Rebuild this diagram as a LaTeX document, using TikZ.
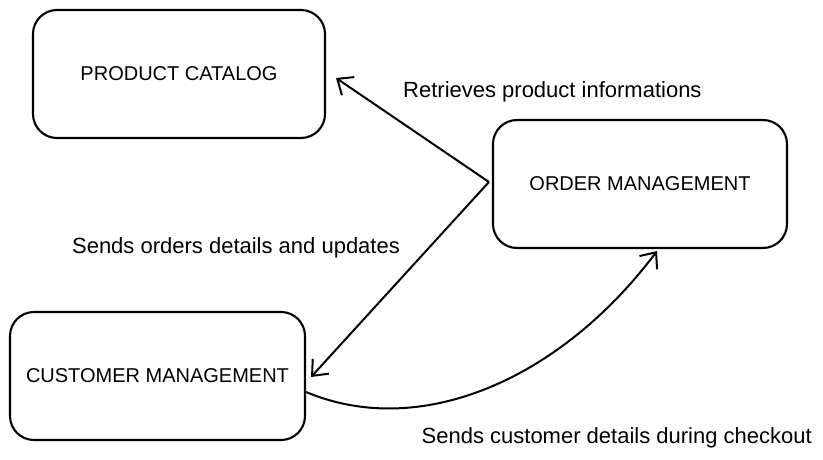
\documentclass[tikz,border=0pt]{standalone}
\usepackage{fontspec}
\setmainfont{Liberation Sans}
\usetikzlibrary{arrows.meta,calc}
\begin{document}
\begin{tikzpicture}[x=1pt,y=-1pt,
  box/.style={draw=black,line width=2.1pt,rounded corners=24pt,minimum width=#1,minimum height=128pt,inner sep=0pt,font=\fontsize{20}{24}\selectfont},
  conn/.style={draw=black,line width=2pt,-{Straight Barb[length=13pt,width=22pt,line width=2pt]}},
  lbl/.style={font=\fontsize{22}{26}\selectfont,inner sep=0pt}]
\useasboundingbox (0,0) rectangle (823,460);
\node[box=292pt] (pc) at (179,74) {PRODUCT CATALOG};
\node[box=294pt] (om) at (640,184) {ORDER MANAGEMENT};
\node[box=295pt] (cm) at (157.5,376) {CUSTOMER MANAGEMENT};
\coordinate (t1) at ($(pc.east)+(10,4)$);
\coordinate (t2) at ($(cm.east)+(5,1)$);
\coordinate (s3) at ($(cm.east)+(0,16)$);
\coordinate (t3) at ($(om.south)+(17,2)$);
\draw[conn] ($(om.west)+(-3,-2)$) -- (t1);
\draw[conn] ($(om.west)+(-3,-2)$) -- (t2);
\draw[conn] (s3) .. controls (420,440) and (560,380) .. (t3);
\node[lbl,anchor=west] (l1) at (403,92) {Retrieves product informations};
\node[lbl] (l2) at (236,248) {Sends orders details and updates};
\node[lbl,anchor=east] (l3) at (812,438) {Sends customer details during checkout};
\end{tikzpicture}
\end{document}
